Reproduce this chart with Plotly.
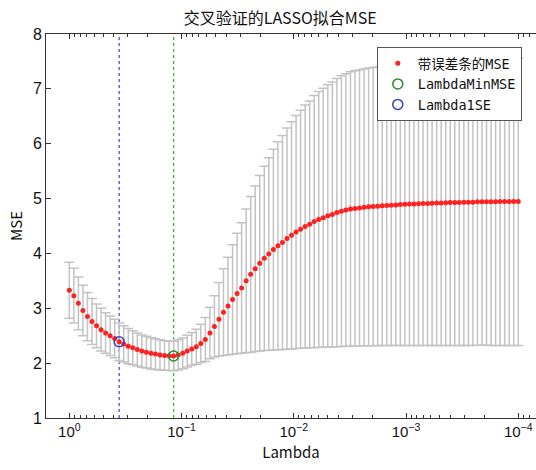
import plotly.graph_objects as go

# Lambda values (log-spaced: 1 down to 1e-4, 100 points)
LAMBDA = [
    1.0000, 0.91116, 0.83021, 0.75646, 0.68926, 0.62803, 0.57224, 0.52140, 0.47508, 0.43288,
    0.39442, 0.35938, 0.32745, 0.29836, 0.27186, 0.24771, 0.22570, 0.20565, 0.18738, 0.17074,
    0.15557, 0.14175, 0.12916, 0.11768, 0.10723, 9.7701e-2, 8.9021e-2, 8.1113e-2, 7.3907e-2, 6.7341e-2,
    6.1358e-2, 5.5907e-2, 5.0940e-2, 4.6415e-2, 4.2291e-2, 3.8534e-2, 3.5111e-2, 3.1992e-2, 2.9150e-2, 2.6560e-2,
    2.4200e-2, 2.2050e-2, 2.0091e-2, 1.8306e-2, 1.6680e-2, 1.5198e-2, 1.3848e-2, 1.2618e-2, 1.1497e-2, 1.0476e-2,
    9.5455e-3, 8.6975e-3, 7.9248e-3, 7.2208e-3, 6.5793e-3, 5.9948e-3, 5.4622e-3, 4.9770e-3, 4.5348e-3, 4.1319e-3,
    3.7648e-3, 3.4304e-3, 3.1256e-3, 2.8479e-3, 2.5949e-3, 2.3644e-3, 2.1544e-3, 1.9630e-3, 1.7886e-3, 1.6297e-3,
    1.4849e-3, 1.3530e-3, 1.2328e-3, 1.1233e-3, 1.0235e-3, 9.3260e-4, 8.4975e-4, 7.7426e-4, 7.0548e-4, 6.4281e-4,
    5.8570e-4, 5.3367e-4, 4.8626e-4, 4.4306e-4, 4.0370e-4, 3.6784e-4, 3.3516e-4, 3.0539e-4, 2.7826e-4, 2.5354e-4,
    2.3101e-4, 2.1049e-4, 1.9179e-4, 1.7475e-4, 1.5923e-4, 1.4508e-4, 1.3219e-4, 1.2045e-4, 1.0975e-4, 1.0000e-4,
]

MSE = [
    3.33, 3.23, 3.09, 2.96, 2.85, 2.76, 2.68, 2.61, 2.55, 2.50,
    2.45, 2.39, 2.35, 2.31, 2.28, 2.25, 2.22, 2.20, 2.18, 2.165,
    2.15, 2.14, 2.135, 2.13, 2.15, 2.18, 2.22, 2.26, 2.30, 2.36,
    2.43, 2.55, 2.67, 2.80, 2.93, 3.04, 3.16, 3.27, 3.37, 3.50,
    3.62, 3.72, 3.82, 3.91, 3.99, 4.07, 4.14, 4.20, 4.27, 4.33,
    4.39, 4.44, 4.49, 4.53, 4.58, 4.62, 4.65, 4.685, 4.71, 4.745,
    4.77, 4.79, 4.81, 4.82, 4.83, 4.84, 4.85, 4.855, 4.86, 4.87,
    4.875, 4.88, 4.885, 4.89, 4.895, 4.90, 4.90, 4.905, 4.91, 4.91,
    4.915, 4.92, 4.92, 4.925, 4.93, 4.93, 4.93, 4.935, 4.935, 4.935,
    4.94, 4.94, 4.94, 4.94, 4.94, 4.945, 4.945, 4.945, 4.945, 4.945,
]

SE = [
    0.51, 0.50, 0.48, 0.46, 0.44, 0.42, 0.40, 0.39, 0.37, 0.36,
    0.35, 0.34, 0.33, 0.32, 0.31, 0.30, 0.295, 0.29, 0.285, 0.28,
    0.275, 0.27, 0.27, 0.27, 0.275, 0.28, 0.29, 0.30, 0.32, 0.35,
    0.40, 0.47, 0.56, 0.67, 0.79, 0.89, 1.00, 1.10, 1.19, 1.31,
    1.42, 1.51, 1.60, 1.68, 1.755, 1.83, 1.895, 1.95, 2.015, 2.07,
    2.125, 2.17, 2.215, 2.25, 2.297, 2.334, 2.36, 2.392, 2.414, 2.445,
    2.467, 2.484, 2.50, 2.508, 2.516, 2.524, 2.532, 2.536, 2.54, 2.55,
    2.555, 2.56, 2.565, 2.57, 2.575, 2.58, 2.58, 2.585, 2.59, 2.59,
    2.595, 2.60, 2.60, 2.604, 2.608, 2.608, 2.608, 2.612, 2.612, 2.612,
    2.616, 2.616, 2.616, 2.618, 2.618, 2.622, 2.622, 2.622, 2.622, 2.622,
]

IDX_MIN_MSE = 23
IDX_1SE = 11
LAMBDA_MIN_MSE = LAMBDA[IDX_MIN_MSE]
LAMBDA_1SE = LAMBDA[IDX_1SE]

Y_RANGE = [1, 8]
X_LOG_RANGE = [0.2076, -4.158]
TICK_VALS = [1, 0.1, 0.01, 0.001, 0.0001]
TICK_TEXT = ["10<sup>0</sup>", "10<sup>\u22121</sup>", "10<sup>\u22122</sup>",
             "10<sup>\u22123</sup>", "10<sup>\u22124</sup>"]
MINOR_TICK_VALS = [k * 10.0 ** e for e in range(-5, 1) for k in range(2, 10)]

TITLE = "交叉验证的LASSO拟合MSE"
NAME_MSE = "带误差条的MSE"
NAME_MIN = "LambdaMinMSE"
NAME_1SE = "Lambda1SE"

CJK = "Noto Sans CJK SC"
LEG_FONT = "DejaVu Sans Mono, Noto Sans Mono CJK SC, Noto Sans CJK SC"
LAT = "Liberation Sans, Arial, sans-serif"

fig = go.Figure()

# vertical dotted reference lines
fig.add_trace(go.Scatter(x=[LAMBDA_1SE, LAMBDA_1SE], y=Y_RANGE, mode="lines",
                         line=dict(color="#3a55ff", dash="dot", width=1.3),
                         showlegend=False, hoverinfo="skip"))
fig.add_trace(go.Scatter(x=[LAMBDA_MIN_MSE, LAMBDA_MIN_MSE], y=Y_RANGE, mode="lines",
                         line=dict(color="#33bb33", dash="dot", width=1.3),
                         showlegend=False, hoverinfo="skip"))

fig.add_trace(go.Scatter(
    x=LAMBDA, y=MSE, mode="markers", name=NAME_MSE,
    marker=dict(color="#ff2020", size=5),
    error_y=dict(type="data", array=SE, visible=True, color="#c3c3c3",
                 thickness=1.5, width=5),
))

fig.add_trace(go.Scatter(
    x=[LAMBDA_MIN_MSE], y=[MSE[IDX_MIN_MSE]], mode="markers", name=NAME_MIN,
    marker=dict(symbol="circle-open", size=10, color="#2e8b2e", line=dict(width=1.5)),
))
fig.add_trace(go.Scatter(
    x=[LAMBDA_1SE], y=[MSE[IDX_1SE]], mode="markers", name=NAME_1SE,
    marker=dict(symbol="circle-open", size=10, color="#3344bb", line=dict(width=1.5)),
))

fig.update_layout(
    width=536, height=470,
    margin=dict(l=46, r=0, t=34, b=52),
    paper_bgcolor="white", plot_bgcolor="white",
    title=dict(text=TITLE, x=0.478, xref="paper", xanchor="center",
               y=1 - 18 / 470, yref="container", yanchor="middle",
               font=dict(family=CJK, size=16, color="#111")),
    xaxis=dict(
        type="log", range=X_LOG_RANGE,
        tickmode="array", tickvals=TICK_VALS, ticktext=TICK_TEXT,
        ticks="inside", ticklen=5, tickcolor="#333", tickwidth=1,
        minor=dict(ticks="inside", ticklen=3, tickcolor="#333", tickmode="array",
                   tickvals=MINOR_TICK_VALS, showgrid=False),
        showline=True, linecolor="#333", linewidth=1, mirror="ticks",
        showgrid=False, zeroline=False,
        tickfont=dict(family=LAT, size=15, color="#111"),
        title=dict(text="Lambda", font=dict(family=CJK, size=15, color="#111"), standoff=8),
    ),
    yaxis=dict(
        range=Y_RANGE, dtick=1, tick0=1,
        ticks="inside", ticklen=5, tickcolor="#333",
        showline=True, linecolor="#333", linewidth=1, mirror=False,
        showgrid=False, zeroline=False,
        tickfont=dict(family=LAT, size=16, color="#111"),
        title=dict(text="MSE", font=dict(family=CJK, size=15, color="#111"), standoff=6),
    ),
    legend=dict(
        x=0.971, y=0.966, xanchor="right", yanchor="top",
        bgcolor="white", bordercolor="#555", borderwidth=1,
        font=dict(family=LEG_FONT, size=13.5, color="#111"),
        tracegroupgap=0,
    ),
)

fig.write_html("out.html")
